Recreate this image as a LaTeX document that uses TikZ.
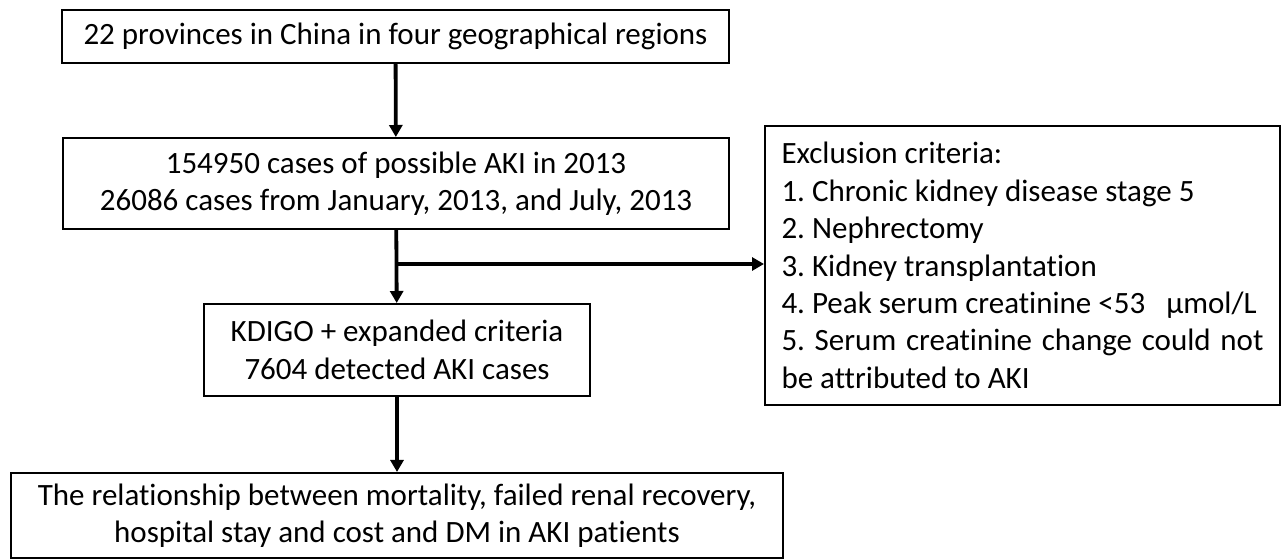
\documentclass[tikz,border=0pt]{standalone}
\usepackage{fontspec}
\setmainfont[Ligatures=NoCommon]{Carlito}
\usepackage{tikz}
\usetikzlibrary{arrows.meta}
\frenchspacing
\tikzset{
    flow-box/.style = {draw=black, fill=white, line width=1pt, rectangle, align=center, inner sep=0pt, font=\fontsize{15.5}{18.7}\selectfont},
    flow-arrow/.style = {draw=black, line width=1.9pt, -{Triangle[length=6pt, width=6.5pt]}},
}

\begin{document}
\begin{tikzpicture}[x=0.5pt, y=-0.5pt]
\useasboundingbox (0,0) rectangle (1285,560);
\node [flow-box, minimum width=333.5pt, minimum height=26.5pt] (provinces) at (395.5,36.5) {22 provinces in China in four geographical regions};
\node [flow-box, minimum width=333pt, minimum height=45.5pt] (possible) at (396,183.5) {154950 cases of possible AKI in 2013\\26086 cases from January, 2013, and July, 2013};
\node [flow-box, minimum width=193pt, minimum height=46pt] (detected) at (397,350) {KDIGO + expanded criteria\\7604 detected AKI cases};
\node [flow-box, minimum width=386pt, minimum height=42.5pt] (relation) at (397,515.5) {The relationship between mortality, failed renal recovery,\\hospital stay and cost and DM in AKI patients};
\node [flow-box, minimum width=257.5pt, minimum height=139.5pt] (exclusion) at (1022.5,265.5) {\begin{minipage}{241pt}
    \parindent=0pt
    Exclusion criteria:\par
    1. Chronic kidney disease stage 5\par
    2. Nephrectomy\par
    3. Kidney transplantation\par
    4. Peak serum creatinine <53\ \ \ µmol/L\par
    5. Serum creatinine change could not\linebreak be attributed to AKI
\end{minipage}};
\coordinate (branch) at (396,264);
\draw [flow-arrow] (provinces) -- (possible);
\draw [flow-arrow] (possible) -- (detected);
\draw [flow-arrow] (branch) -- (branch -| exclusion.west);
\draw [flow-arrow] (detected) -- (relation);
\end{tikzpicture}
\end{document}
